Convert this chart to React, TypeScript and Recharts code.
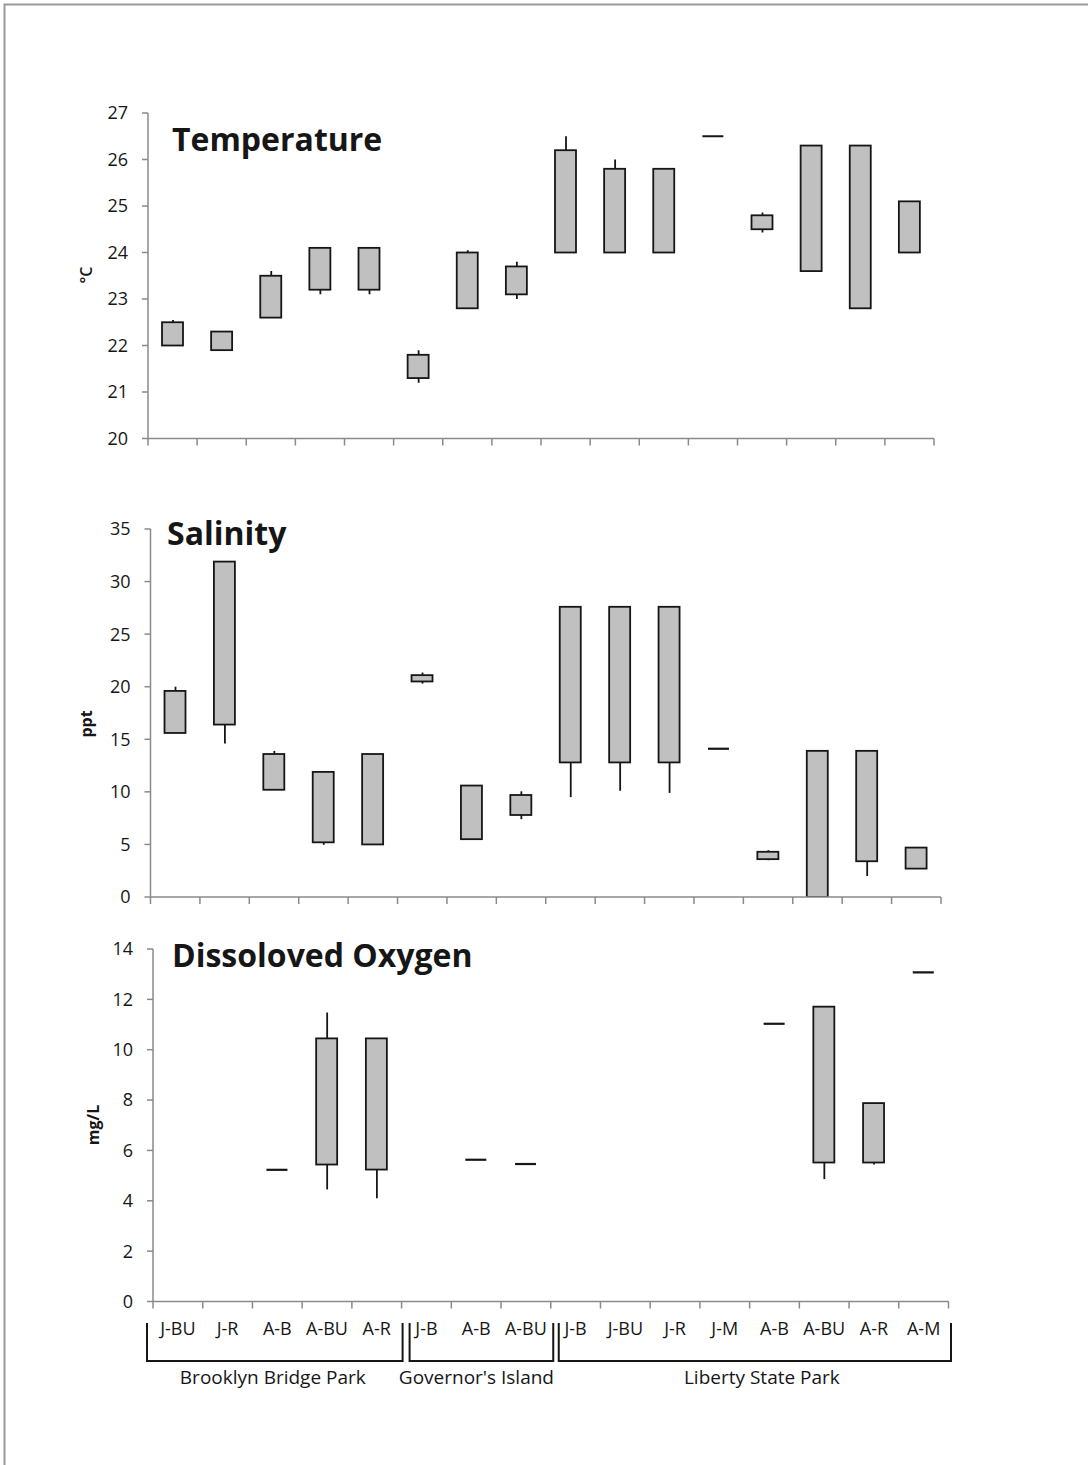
import React from 'react';
import { BarChart, Bar, XAxis, YAxis } from 'recharts';

// sites, grouped by park
const categories = ['J-BU', 'J-R', 'A-B', 'A-BU', 'A-R', 'J-B', 'A-B', 'A-BU', 'J-B', 'J-BU', 'J-R', 'J-M', 'A-B', 'A-BU', 'A-R', 'A-M'];
const groups = [
  { name: 'Brooklyn Bridge Park', from: 0, to: 5 },
  { name: "Governor's Island", from: 5, to: 8 },
  { name: 'Liberty State Park', from: 8, to: 16 },
];

// temperature (°C)
const tempMin = [22.0, 21.9, 22.6, 23.1, 23.1, 21.2, 22.8, 23.0, 24.0, 24.0, 24.0, 26.5, 24.43, 23.6, 22.8, 24.0];
const tempLow = [22.0, 21.9, 22.6, 23.2, 23.2, 21.3, 22.8, 23.1, 24.0, 24.0, 24.0, 26.5, 24.5, 23.6, 22.8, 24.0];
const tempHigh = [22.5, 22.3, 23.5, 24.1, 24.1, 21.8, 24.0, 23.7, 26.2, 25.8, 25.8, 26.5, 24.8, 26.3, 26.3, 25.1];
const tempMax = [22.55, 22.3, 23.6, 24.1, 24.1, 21.9, 24.05, 23.8, 26.5, 26.0, 25.8, 26.5, 24.86, 26.3, 26.3, 25.1];
const tempTicks = [20, 21, 22, 23, 24, 25, 26, 27];

// salinity (ppt)
const salMin = [15.6, 14.6, 10.2, 4.97, 4.94, 20.3, 5.5, 7.4, 9.5, 10.1, 9.9, 14.1, 3.5, 0, 2.0, 2.7];
const salLow = [15.6, 16.4, 10.2, 5.2, 5.0, 20.5, 5.5, 7.8, 12.8, 12.8, 12.8, 14.1, 3.6, 0, 3.4, 2.7];
const salHigh = [19.6, 31.9, 13.6, 11.9, 13.6, 21.1, 10.6, 9.7, 27.6, 27.6, 27.6, 14.1, 4.3, 13.9, 13.9, 4.7];
const salMax = [20.0, 31.9, 13.9, 11.9, 13.6, 21.35, 10.6, 10.05, 27.6, 27.6, 27.6, 14.1, 4.45, 13.9, 13.9, 4.7];
const salTicks = [0, 5, 10, 15, 20, 25, 30, 35];

// dissolved oxygen (mg/L), no June readings
const doMin = [null, null, 5.23, 4.45, 4.1, null, 5.63, 5.46, null, null, null, null, 11.03, 4.86, 5.44, 13.07];
const doLow = [null, null, 5.23, 5.44, 5.24, null, 5.63, 5.46, null, null, null, null, 11.03, 5.52, 5.52, 13.07];
const doHigh = [null, null, 5.23, 10.45, 10.45, null, 5.63, 5.46, null, null, null, null, 11.03, 11.71, 7.88, 13.07];
const doMax = [null, null, 5.23, 11.48, 10.45, null, 5.63, 5.46, null, null, null, null, 11.03, 11.71, 7.88, 13.07];
const doTicks = [0, 2, 4, 6, 8, 10, 12, 14];

const FONT = '"Open Sans", Calibri, sans-serif';
const AXIS = '#8a8a8a';
const INK = '#161616';

const buildRows = (mins: any[], lows: any[], highs: any[], maxs: any[]) =>
  categories.map((cat, i) => ({ cat, min: mins[i], low: lows[i], high: highs[i], max: maxs[i] }));

const Whisker = (props: any) => {
  const { x, y, width, height, payload } = props;
  if (!payload || payload.min == null || !isFinite(y) || !(height > 1)) return <g />;
  const cx = x + width / 2;
  return <line x1={cx} x2={cx} y1={y} y2={y + height} stroke={INK} strokeWidth={1.8} />;
};

const Box = (props: any) => {
  const { x, y, width, height, payload } = props;
  if (!payload || payload.low == null || !isFinite(y)) return <g />;
  if (!(height > 1.5)) {
    return <line x1={x} x2={x + width} y1={y} y2={y} stroke={INK} strokeWidth={2.2} />;
  }
  return <rect x={x} y={y} width={width} height={height} fill="#c0c0c0" stroke={INK} strokeWidth={1.8} />;
};

// tick marks sit between categories, labels under the band centre
const makeTick = (band: number, showLabels: boolean) => (props: any) => {
  const { x, y, payload, index } = props;
  const last = index === categories.length - 1;
  return (
    <g>
      <line x1={x - band / 2} x2={x - band / 2} y1={y} y2={y + 7} stroke={AXIS} strokeWidth={1.5} />
      {last && <line x1={x + band / 2} x2={x + band / 2} y1={y} y2={y + 7} stroke={AXIS} strokeWidth={1.5} />}
      {showLabels && (
        <text x={x} y={y + 33} textAnchor="middle" fontFamily={FONT} fontSize={18} fill={INK}>
          {payload.value}
        </text>
      )}
    </g>
  );
};

interface PanelProps {
  rows: any[];
  top: number;
  plotTop: number;
  plotBottom: number;
  plotLeft: number;
  plotRight: number;
  domain: [number, number];
  ticks: number[];
  showLabels?: boolean;
}

const Panel: React.FC<PanelProps> = ({ rows, top, plotTop, plotBottom, plotLeft, plotRight, domain, ticks, showLabels }) => {
  const mTop = plotTop - top;
  const xh = showLabels ? 45 : 20;
  const height = mTop + (plotBottom - plotTop) + xh;
  const band = (plotRight - plotLeft) / categories.length;
  return (
    <div style={{ position: 'absolute', left: 0, top }}>
      <BarChart
        width={1088}
        height={height}
        data={rows}
        margin={{ top: mTop, right: 1088 - plotRight, bottom: 0, left: plotLeft - 60 }}
      >
        <XAxis xAxisId="whisk" dataKey="cat" hide height={0} />
        <XAxis
          xAxisId="cat"
          dataKey="cat"
          height={xh}
          interval={0}
          axisLine={{ stroke: AXIS, strokeWidth: 1.5 }}
          tickLine={false}
          tickSize={0}
          tickMargin={0}
          tick={makeTick(band, !!showLabels)}
        />
        <YAxis
          domain={domain}
          ticks={ticks}
          interval={0}
          width={60}
          allowDataOverflow
          axisLine={{ stroke: AXIS, strokeWidth: 1.5 }}
          tickLine={{ stroke: AXIS, strokeWidth: 1.5 }}
          tickSize={6}
          tickMargin={14}
          tick={{ fill: INK, fontSize: 18, fontFamily: FONT }}
        />
        <Bar
          xAxisId="whisk"
          dataKey={(r: any) => (r.min == null ? null : [r.min, r.max])}
          barSize={20}
          shape={(p: any) => <Whisker {...p} />}
          isAnimationActive={false}
        />
        <Bar
          xAxisId="cat"
          dataKey={(r: any) => (r.low == null ? null : [r.low, r.high])}
          barSize={21}
          shape={(p: any) => <Box {...p} />}
          isAnimationActive={false}
        />
      </BarChart>
    </div>
  );
};

const App: React.FC = () => {
  // bottom axis x-range, used to place the park brackets
  const axL = 153;
  const axR = 948.5;
  const band = (axR - axL) / categories.length;
  const labelShift = [-2, -5, 7];
  return (
    <div style={{ position: 'absolute', left: 0, top: 0, width: 1088, height: 1465, background: '#fff', fontFamily: FONT }}>
      <Panel rows={buildRows(tempMin, tempLow, tempHigh, tempMax)} top={90} plotTop={113} plotBottom={438.5} plotLeft={148} plotRight={934} domain={[20, 27]} ticks={tempTicks} />
      <Panel rows={buildRows(salMin, salLow, salHigh, salMax)} top={506} plotTop={529} plotBottom={897} plotLeft={150.5} plotRight={941} domain={[0, 35]} ticks={salTicks} />
      <Panel rows={buildRows(doMin, doLow, doHigh, doMax)} top={926} plotTop={949} plotBottom={1301.5} plotLeft={axL} plotRight={axR} domain={[0, 14]} ticks={doTicks} showLabels />
      <svg width={1088} height={1465} style={{ position: 'absolute', left: 0, top: 0, pointerEvents: 'none' }}>
        <path d="M4.5,1465 V4.5 H1088" fill="none" stroke="#999" strokeWidth={2} />
        <text x={172} y={151} fontFamily={FONT} fontWeight={700} fontSize={32} fill={INK}>Temperature</text>
        <text x={167} y={545} fontFamily={FONT} fontWeight={700} fontSize={32} fill={INK}>Salinity</text>
        <text x={172} y={967} fontFamily={FONT} fontWeight={700} fontSize={32} fill={INK}>Dissoloved Oxygen</text>
        <text x={88} y={275} transform="rotate(-90 88 275)" textAnchor="middle" dominantBaseline="middle" fontFamily={FONT} fontWeight={600} fontSize={16} fill={INK}>°C</text>
        <text x={88} y={724} transform="rotate(-90 88 724)" textAnchor="middle" dominantBaseline="middle" fontFamily={FONT} fontWeight={700} fontSize={16} fill={INK}>ppt</text>
        <text x={95} y={1125} transform="rotate(-90 95 1125)" textAnchor="middle" dominantBaseline="middle" fontFamily={FONT} fontWeight={700} fontSize={16} fill={INK}>mg/L</text>
        {groups.map((g, i) => {
          const x1 = axL + g.from * band + (i === 0 ? -6 : 8);
          const x2 = axL + g.to * band + (i === 0 ? 1 : 2.5);
          return (
            <g key={g.name}>
              <path d={`M${x1},1323 V1361 H${x2} V1323`} fill="none" stroke={INK} strokeWidth={2} />
              <text x={(x1 + x2) / 2 + labelShift[i]} y={1384} textAnchor="middle" fontFamily={FONT} fontSize={19} fill={INK}>{g.name}</text>
            </g>
          );
        })}
      </svg>
    </div>
  );
};

export default App;
